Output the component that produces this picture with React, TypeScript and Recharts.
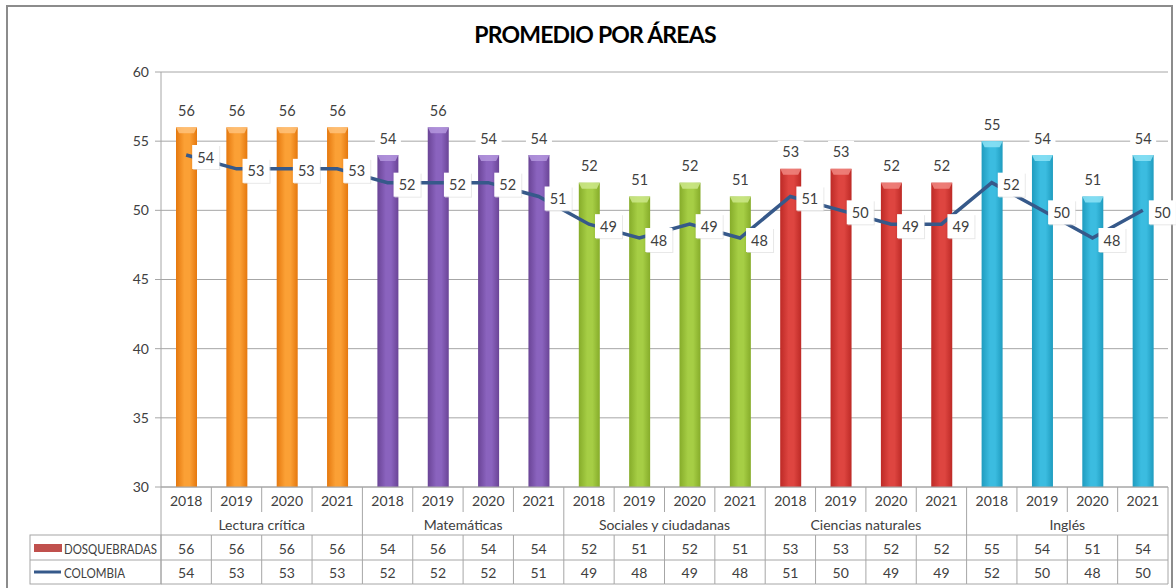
import React from "react";
import {
  ComposedChart,
  Bar,
  Line,
  XAxis,
  YAxis,
  CartesianGrid,
  LabelList,
} from "recharts";

// ── data ─────────────────────────────────────────────────────────────────────
const AREAS = [
  "Lectura crítica",
  "Matemáticas",
  "Sociales y ciudadanas",
  "Ciencias naturales",
  "Inglés",
];
const YEARS = ["2018", "2019", "2020", "2021"];
const DOSQUEBRADAS = [56, 56, 56, 56, 54, 56, 54, 54, 52, 51, 52, 51, 53, 53, 52, 52, 55, 54, 51, 54];
const COLOMBIA = [54, 53, 53, 53, 52, 52, 52, 51, 49, 48, 49, 48, 51, 50, 49, 49, 52, 50, 48, 50];
const Y_TICKS = [30, 35, 40, 45, 50, 55, 60];

// bar colours per area: [edge, middle, top bevel]
const AREA_COLORS = [
  ["#E5780E", "#FBA035", "#FFC27A"],
  ["#6A4496", "#8A63BE", "#B496DE"],
  ["#86AC2A", "#A6CE45", "#CCE88A"],
  ["#BD2A26", "#DE4540", "#F08680"],
  ["#1F9CBF", "#3BBCE0", "#8EE3F6"],
];

const data = DOSQUEBRADAS.map((v, i) => ({
  key: i,
  year: YEARS[i % 4],
  area: AREAS[Math.floor(i / 4)],
  dosquebradas: v,
  colombia: COLOMBIA[i],
}));

const FONT = "Lato, 'Open Sans', sans-serif";
const TEXT = "#404040";
const GRID = "#a6a6a6";
const LINE = "#36598A";

const PLOT_LEFT = 161;
const PLOT_RIGHT = 1168;
const BAND = (PLOT_RIGHT - PLOT_LEFT) / data.length;
const ROWS = [487, 512, 535, 560, 584];
const TABLE_LEFT = 30;

function BarShape(props: any) {
  const { x, y, width, height, payload } = props;
  const g = Math.floor(payload.key / 4);
  const top = AREA_COLORS[g][2];
  return (
    <g>
      <rect x={x} y={y} width={width} height={height} fill={`url(#bar-${g})`} />
      <path
        d={`M${x},${y} L${x + width},${y} L${x + width - 3},${y + 6} L${x + 3},${y + 6} Z`}
        fill={top}
        opacity={0.85}
      />
    </g>
  );
}

function BarLabel(props: any) {
  const { x, y, width, value } = props;
  const cx = x + width / 2;
  return (
    <g>
      <rect x={cx - 13} y={y - 28} width={26} height={20} fill="#fff" />
      <text x={cx} y={y - 17} textAnchor="middle" dominantBaseline="central" fontSize={14.5} fill={TEXT} fontFamily={FONT}>
        {value}
      </text>
    </g>
  );
}

function LineLabel(props: any) {
  const { x, y, value } = props;
  return (
    <g>
      <rect x={x + 7} y={y - 9} width={27} height={24} fill="#d8d8d8" opacity={0.6} />
      <rect x={x + 6} y={y - 10} width={27} height={24} fill="#fff" />
      <text x={x + 19.5} y={y + 2} textAnchor="middle" dominantBaseline="central" fontSize={14.5} fill={TEXT} fontFamily={FONT}>
        {value}
      </text>
    </g>
  );
}

function TableTick(props: any) {
  const { x, payload } = props;
  const i = Number(payload.value);
  const left = x - BAND / 2;
  const right = x + BAND / 2;
  const first = i % 4 === 0;
  const last = i === data.length - 1;
  const t = { fontSize: 14, fill: TEXT, fontFamily: FONT, textAnchor: "middle" as const, dominantBaseline: "central" as const };
  return (
    <g>
      {/* cell borders */}
      {first ? (
        <line x1={left} y1={ROWS[0]} x2={left} y2={ROWS[4]} stroke={GRID} />
      ) : (
        <>
          <line x1={left} y1={ROWS[0]} x2={left} y2={ROWS[1]} stroke={GRID} />
          <line x1={left} y1={ROWS[2]} x2={left} y2={ROWS[4]} stroke={GRID} />
        </>
      )}
      {last && <line x1={right} y1={ROWS[0]} x2={right} y2={ROWS[4]} stroke={GRID} />}
      <line x1={left} y1={ROWS[2]} x2={right} y2={ROWS[2]} stroke={GRID} />
      <line x1={left} y1={ROWS[3]} x2={right} y2={ROWS[3]} stroke={GRID} />
      <line x1={left} y1={ROWS[4]} x2={right} y2={ROWS[4]} stroke={GRID} />
      {/* texts */}
      <text x={x} y={500} {...t}>{data[i].year}</text>
      {i % 4 === 1 && (
        <text x={right} y={524} {...t}>{data[i].area}</text>
      )}
      <text x={x} y={548} {...t}>{data[i].dosquebradas}</text>
      <text x={x} y={572} {...t}>{data[i].colombia}</text>
      {/* legend column */}
      {i === 0 && (
        <g>
          <rect x={TABLE_LEFT} y={ROWS[2]} width={left - TABLE_LEFT} height={ROWS[4] - ROWS[2]} fill="none" stroke={GRID} />
          <line x1={TABLE_LEFT} y1={ROWS[3]} x2={left} y2={ROWS[3]} stroke={GRID} />
          <rect x={34} y={544} width={28} height={8} fill="#C0504D" />
          <text x={64} y={548} fontSize={14} fill={TEXT} fontFamily={FONT} dominantBaseline="central" textLength={93} lengthAdjust="spacingAndGlyphs">
            DOSQUEBRADAS
          </text>
          <line x1={34} y1={572} x2={61} y2={572} stroke={LINE} strokeWidth={3} />
          <text x={64} y={572} fontSize={14} fill={TEXT} fontFamily={FONT} dominantBaseline="central" textLength={61} lengthAdjust="spacingAndGlyphs">
            COLOMBIA
          </text>
        </g>
      )}
    </g>
  );
}

export default function App() {
  return (
    <div style={{ position: "absolute", left: 0, top: 0, width: 1176, height: 588, background: "#fff", overflow: "hidden" }}>
      <div
        style={{
          position: "absolute",
          left: 6,
          top: 5,
          width: 1163,
          height: 620,
          border: "2px solid #8c8c8c",
        }}
      />
      <div
        style={{
          position: "absolute",
          left: 0,
          top: 20,
          width: 1190,
          textAlign: "center",
          fontFamily: FONT,
          fontWeight: 700,
          fontSize: 23,
          letterSpacing: -0.8,
          color: "#000",
        }}
      >
        PROMEDIO POR ÁREAS
      </div>
      <div style={{ position: "absolute", left: 0, top: 0 }}>
        <ComposedChart
          width={1176}
          height={588}
          data={data}
          margin={{ top: 72, right: 1176 - PLOT_RIGHT, bottom: 0, left: PLOT_LEFT - 50 }}
          barSize={21}
        >
          <defs>
            {AREA_COLORS.map((c, g) => (
              <linearGradient key={g} id={`bar-${g}`} x1="0" y1="0" x2="1" y2="0">
                <stop offset="0%" stopColor={c[0]} />
                <stop offset="40%" stopColor={c[1]} />
                <stop offset="65%" stopColor={c[1]} />
                <stop offset="100%" stopColor={c[0]} />
              </linearGradient>
            ))}
          </defs>
          <CartesianGrid vertical={false} stroke={GRID} />
          <XAxis
            dataKey="key"
            type="category"
            height={101}
            interval={0}
            tickLine={false}
            axisLine={{ stroke: GRID }}
            tick={<TableTick />}
          />
          <YAxis
            width={50}
            domain={[30, 60]}
            ticks={Y_TICKS}
            interval={0}
            tickSize={6}
            tickMargin={6}
            tickLine={{ stroke: GRID }}
            axisLine={{ stroke: GRID }}
            tick={{ fontSize: 14, fill: TEXT, fontFamily: FONT }}
          />
          <Bar dataKey="dosquebradas" shape={<BarShape />} isAnimationActive={false}>
            <LabelList dataKey="dosquebradas" content={<BarLabel />} />
          </Bar>
          <Line
            dataKey="colombia"
            stroke={LINE}
            strokeWidth={3.5}
            dot={false}
            activeDot={false}
            isAnimationActive={false}
          >
            <LabelList dataKey="colombia" content={<LineLabel />} />
          </Line>
        </ComposedChart>
      </div>
    </div>
  );
}
